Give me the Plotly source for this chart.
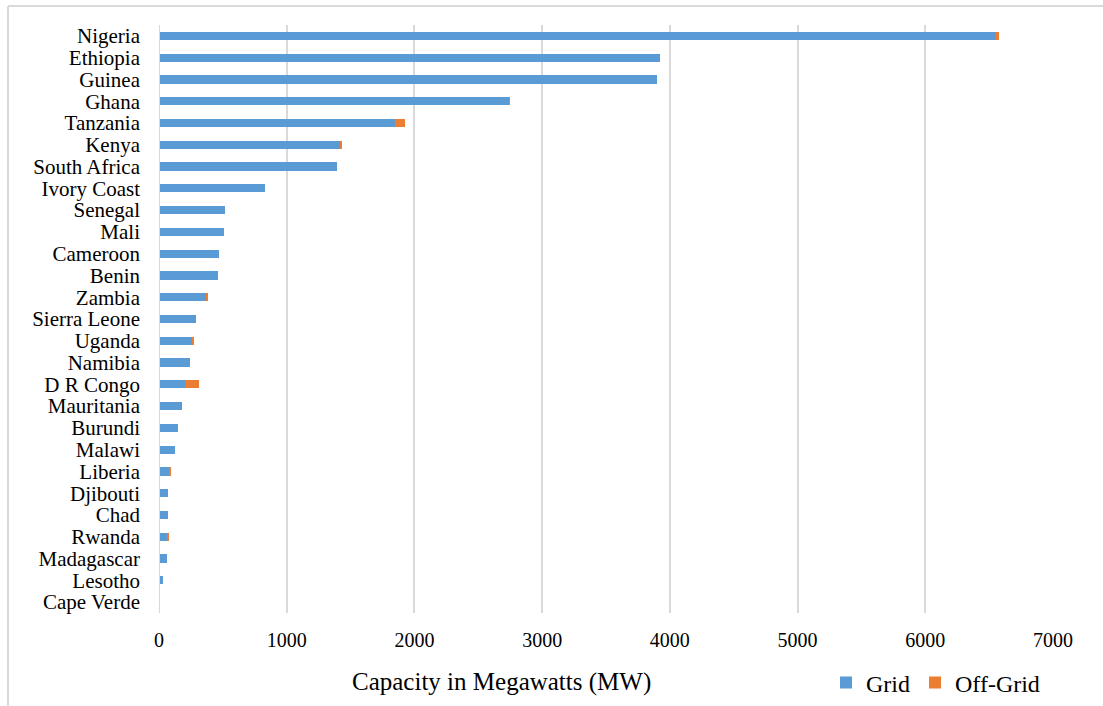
import plotly.graph_objects as go

countries = ["Nigeria", "Ethiopia", "Guinea", "Ghana", "Tanzania", "Kenya", "South Africa",
             "Ivory Coast", "Senegal", "Mali", "Cameroon", "Benin", "Zambia", "Sierra Leone",
             "Uganda", "Namibia", "D R Congo", "Mauritania", "Burundi", "Malawi", "Liberia",
             "Djibouti", "Chad", "Rwanda", "Madagascar", "Lesotho", "Cape Verde"]
grid = [6555, 3924, 3898, 2743, 1847, 1416, 1393, 831, 520, 512, 473, 462, 371, 290,
        256, 243, 201, 180, 147, 126, 86, 71, 71, 68, 63, 34, 0]
off_grid = [23, 0, 0, 4, 78, 18, 0, 0, 0, 0, 0, 0, 6, 0,
            18, 0, 110, 0, 0, 0, 2, 0, 0, 3, 0, 0, 0]
x_ticks = [0, 1000, 2000, 3000, 4000, 5000, 6000, 7000]

FONT = "Liberation Serif"

fig = go.Figure()
fig.add_trace(go.Bar(y=countries, x=grid, name="Grid", orientation="h",
                     marker=dict(color="#5B9BD5", line=dict(width=0)), width=0.38))
fig.add_trace(go.Bar(y=countries, x=off_grid, name="Off-Grid", orientation="h",
                     marker=dict(color="#ED7D31", line=dict(width=0)), width=0.38))

L, R, T, B = 159, 50, 25, 93
W, H = 1103, 706
pw, ph = W - L - R, H - T - B

fig.update_layout(
    barmode="stack",
    width=W, height=H,
    margin=dict(l=L, r=R, t=T, b=B, autoexpand=False),
    paper_bgcolor="white", plot_bgcolor="white",
    font=dict(family=FONT, size=20, color="#000000"),
    showlegend=True,
    legend=dict(orientation="h", x=(826 - L) / pw, xanchor="left",
                y=-(683 - (T + ph)) / ph, yanchor="middle",
                font=dict(size=24, family=FONT), itemwidth=30,
                bgcolor="rgba(0,0,0,0)", traceorder="normal"),
    xaxis=dict(range=[0, 7000], tickvals=x_ticks, showgrid=True, automargin=False,
               gridcolor="#d9d9d9", gridwidth=2, zeroline=False, showline=False,
               tickfont=dict(size=20, family=FONT), ticklabelstandoff=13),
    yaxis=dict(autorange="reversed", showgrid=False, zeroline=False, automargin=False,
               showline=False, tickfont=dict(size=21, family=FONT),
               type="category", tickmode="array", tickvals=countries, ticktext=countries,
               ticklabelstandoff=18),
    shapes=[
        dict(type="line", xref="x", yref="paper", x0=0, x1=0, y0=0, y1=1,
             line=dict(color="#d9d9d9", width=2)),
        dict(type="line", xref="paper", yref="paper",
             x0=(8 - L) / pw, x1=(W + 20 - L) / pw,
             y0=1 + (T - 6) / ph, y1=1 + (T - 6) / ph,
             line=dict(color="#d9d9d9", width=2)),
        dict(type="line", xref="paper", yref="paper",
             x0=(8 - L) / pw, x1=(8 - L) / pw,
             y0=1 + (T - 6) / ph, y1=-(B + 20) / ph,
             line=dict(color="#d9d9d9", width=2)),
    ],
    annotations=[
        dict(text="Capacity in Megawatts (MW)", xref="paper", yref="paper",
             x=(501 - L) / pw, y=-(682 - (T + ph)) / ph, xanchor="center",
             yanchor="middle", showarrow=False,
             font=dict(size=25, family=FONT, color="#000000")),
    ],
)

fig.write_html("out.html")
